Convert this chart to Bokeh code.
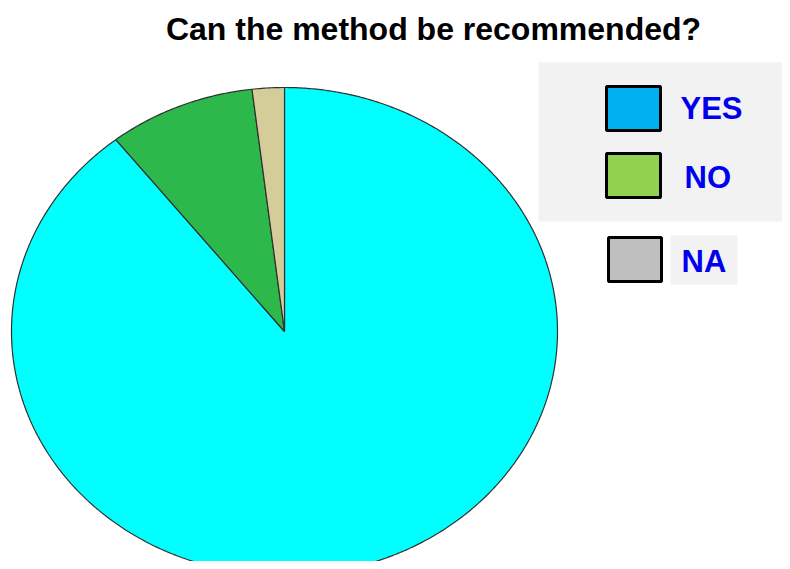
import numpy as np
from bokeh.plotting import figure
from bokeh.models import Range1d, ColumnDataSource
from bokeh.core.properties import value
from bokeh.embed import file_html
from bokeh.resources import INLINE

# ---- data ----
categories = ["YES", "NO", "NA"]
shares = [89.4, 8.7, 1.9]            # percent
pie_colors = ["#00ffff", "#2db84b", "#d4cc99"]
legend_colors = ["#00b0f0", "#92d050", "#bfbfbf"]
title_text = "Can the method be recommended?"

# ---- layout (page pixel space) ----
W, H = 782, 561
CX, CY, RX, RY = 284, 331, 273, 244
FONT = "Liberation Sans"

p = figure(width=W, height=H, output_backend="svg", toolbar_location=None,
           x_range=Range1d(0, W), y_range=Range1d(H, 0),
           min_border=0, outline_line_color=None)
p.axis.visible = False
p.grid.visible = False
p.background_fill_color = "white"

# pie slices (elliptical), clockwise from 12 o'clock
fr = np.array(shares, dtype=float) / np.sum(shares)
ends = np.cumsum(fr) * 2 * np.pi
starts = ends - fr * 2 * np.pi
xs, ys = [], []
for a0, a1 in zip(starts, ends):
    t = np.linspace(a0, a1, max(int((a1 - a0) * 120), 4))
    xs.append([CX] + list(CX + RX * np.sin(t)) + [CX])
    ys.append([CY] + list(CY - RY * np.cos(t)) + [CY])
src = ColumnDataSource(dict(xs=xs, ys=ys, color=pie_colors, cat=categories))
p.patches("xs", "ys", source=src, fill_color="color", line_color="#303030",
          line_width=1.2)

# title
p.text(x=[433], y=[28], text=[title_text], text_align="center",
       text_baseline="middle", text_font=value(FONT), text_font_style="bold",
       text_font_size="32px", text_color="black")

# legend background
p.quad(left=[538], right=[800], top=[62], bottom=[221], fill_color="#f2f2f2",
       line_color=None)
p.quad(left=[670], right=[737], top=[235], bottom=[284], fill_color="#f2f2f2",
       line_color=None)

box_l = [606, 606, 608]
box_r = [660, 660, 661]
box_t = [86, 153, 237]
box_b = [130, 197, 281]
p.quad(left=box_l, right=box_r, top=box_t, bottom=box_b,
       fill_color=legend_colors, line_color="black", line_width=3)

lab_x = [680, 684, 681]
lab_y = [108, 177, 261]
p.text(x=lab_x, y=lab_y, text=categories, text_align="left",
       text_baseline="middle", text_font=value(FONT), text_font_style="bold",
       text_font_size="31px", text_color="#0000ee")

open("out.html", "w").write(file_html(p, INLINE))
